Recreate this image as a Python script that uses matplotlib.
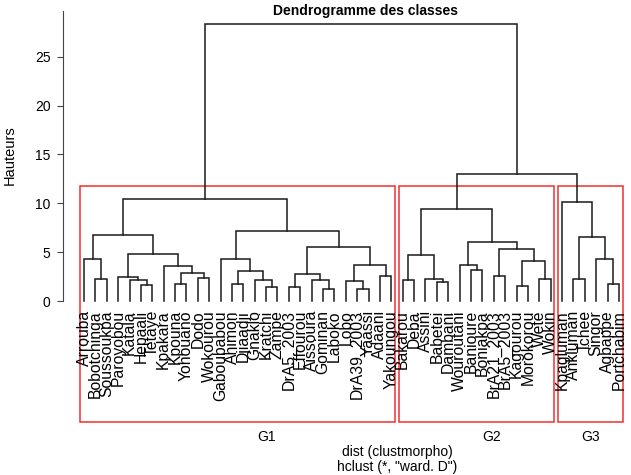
import matplotlib
matplotlib.use("Agg")
import matplotlib.pyplot as plt
from matplotlib.patches import Rectangle

plt.rcParams['font.family'] = ['Liberation Sans', 'DejaVu Sans']

# leaf labels, in dendrogram order
leaf_labels = [
    "Arrouba", "Bobotchinga", "Soussoukpa", "Paroyobou", "Katala", "Hepaali",
    "Tetaye", "Kpakara", "Kpouna", "Yohouano", "Dodo", "Wokourou",
    "Gaboubabou", "Ahimon", "Djiaadji", "Gnaklo", "Kratchi", "Zampe",
    "DrA5_2003", "Effourou", "Aissoura", "Gominan", "Laboko", "Lobo",
    "DrA39_2003", "Yaassi", "Adaani", "Yakoungou",
    "Bakarou", "Deba", "Assini", "Babetei", "Dambani", "Wouroutani",
    "Banioure", "Boniakpa", "BrA21_2003", "BrA5_2003", "Kagourou",
    "Morokorou", "Wete", "Wokin",
    "Kpagluman", "Ankluman", "Tchee", "Singor", "Agbappe", "Portchabim",
]

# merge table, R hclust style: negative = leaf number, positive = earlier row
merge_left = [-2, -1, -6, -5, -4, -9, -11, 6, -8, 5, 2,
              -14, -17, -16, 12, -13, -19, -22, -21, 17, -25, -24, -27, 22, 20, 16, 11,
              -29, -32, -31, 28, -35, -34, -37, -39, -41, 35, 34, 33, 31,
              -44, -47, -46, 41, -43, 40, 27]
merge_right = [-3, 1, -7, 3, 4, -10, -12, 7, 8, 9, 10,
               -15, -18, 13, 14, 15, -20, -23, 18, 19, -26, 21, -28, 23, 24, 25, 26,
               -30, -33, 29, 30, -36, 32, -38, -40, -42, 36, 37, 38, 39,
               -45, -48, 42, 43, 44, 45, 46]
merge_height = [2.22, 4.30, 1.64, 2.15, 2.49, 1.74, 2.32, 2.84, 3.58, 4.81, 6.76,
                1.74, 1.46, 2.15, 3.10, 4.30, 1.46, 1.25, 2.15, 2.73, 1.20, 2.08, 2.59, 3.68, 5.56, 7.20, 10.44,
                2.15, 1.98, 2.22, 4.71, 3.17, 3.68, 2.59, 1.54, 2.22, 4.12, 5.29, 6.00, 9.42,
                2.22, 1.71, 4.30, 6.52, 10.16, 13.00, 28.35]

group_names = ["G1", "G2", "G3"]
group_sizes = [28, 14, 6]
group_label_x = [17, 36.8, 45.5]
cut_height = (10.44 + 13.00) / 2
y_ticks = [0, 5, 10, 15, 20, 25]

W, H = 631, 475
fig = plt.figure(figsize=(W / 100, H / 100), dpi=100)
ax = fig.add_axes([63 / W, (H - 422) / H, (625 - 63) / W, (422 - 10) / H])
ax.set_xlim(-0.845, 48.53)
ax.set_ylim(-12.38, 29.78)

# positions of merged nodes
node_x, node_h = [], []
def pos(k):
    if k < 0:
        return -k, 0.0
    return node_x[k - 1], node_h[k - 1]

for a, b, h in zip(merge_left, merge_right, merge_height):
    xa, ha = pos(a)
    xb, hb = pos(b)
    ax.plot([xa, xa, xb, xb], [ha, h, h, hb], color='#1a1a1a', lw=1.1,
            solid_joinstyle='miter')
    node_x.append((xa + xb) / 2)
    node_h.append(h)

for i, lab in enumerate(leaf_labels):
    ax.text(i + 1, -0.92, lab, rotation=90, ha='center', va='top', fontsize=11.3)

# cluster rectangles
start = 1
for name, n, gx in zip(group_names, group_sizes, group_label_x):
    x0 = start - 0.34
    x1 = start + n - 1 + 0.33
    ax.add_patch(Rectangle((x0, -12.38), x1 - x0, cut_height + 12.38, fill=False,
                           edgecolor='#f03030', lw=1.1, clip_on=False))
    ax.text(gx, -13.92, name, ha='center', va='center', fontsize=10)
    start += n

for s in ['top', 'right', 'bottom']:
    ax.spines[s].set_visible(False)
ax.spines['left'].set_bounds(0, 29.7)
ax.spines['left'].set_color('#444444')
ax.set_xticks([])
ax.set_yticks(y_ticks)
ax.tick_params(axis='y', length=4, pad=5, labelsize=10, color='#444444')

fig.text(366 / W, 1 - 11 / H, "Dendrogramme des classes", ha='center', va='center',
         fontsize=10, fontweight='bold')
fig.text(10 / W, 1 - 155 / H, "Hauteurs", rotation=90, ha='center', va='center', fontsize=10.5)
fig.text(397 / W, 1 - 452 / H, "dist (clustmorpho)", ha='center', va='center', fontsize=10)
fig.text(397 / W, 1 - 467 / H, 'hclust (*, "ward. D")', ha='center', va='center', fontsize=10)

fig.savefig("out.png", dpi=100)
